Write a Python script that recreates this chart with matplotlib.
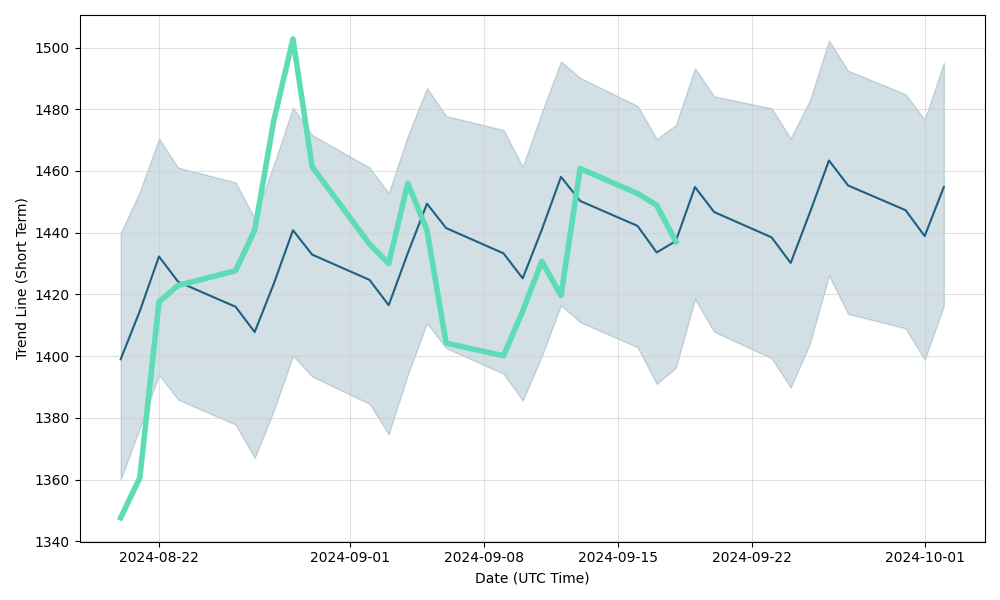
import numpy as np
import pandas as pd
import matplotlib
matplotlib.use("Agg")
import matplotlib.pyplot as plt

dates = pd.to_datetime([
    "2024-08-20", "2024-08-21", "2024-08-22", "2024-08-23",
    "2024-08-26", "2024-08-27", "2024-08-28", "2024-08-29", "2024-08-30",
    "2024-09-02", "2024-09-03", "2024-09-04", "2024-09-05", "2024-09-06",
    "2024-09-09", "2024-09-10", "2024-09-11", "2024-09-12", "2024-09-13",
    "2024-09-16", "2024-09-17", "2024-09-18", "2024-09-19", "2024-09-20",
    "2024-09-23", "2024-09-24", "2024-09-25", "2024-09-26", "2024-09-27",
    "2024-09-30", "2024-10-01", "2024-10-02",
])

trend = [1399.0, 1414.6, 1432.3, 1424.1,
         1416.0, 1407.8, 1423.5, 1440.8, 1432.9,
         1424.7, 1416.5, 1433.4, 1449.4, 1441.5,
         1433.3, 1425.2, 1441.0, 1458.1, 1450.3,
         1442.2, 1433.6, 1437.3, 1454.8, 1446.7,
         1438.5, 1430.2, 1446.5, 1463.4, 1455.3,
         1447.3, 1438.9, 1454.8]

upper = [1439.9, 1453.3, 1470.5, 1461.1,
         1456.3, 1444.7, 1462.0, 1480.5, 1471.7,
         1461.1, 1452.8, 1471.4, 1486.9, 1477.8,
         1473.3, 1461.4, 1479.0, 1495.5, 1490.2,
         1481.1, 1470.4, 1474.9, 1493.3, 1484.2,
         1480.3, 1470.6, 1482.9, 1502.3, 1492.5,
         1484.9, 1476.6, 1495.1]

lower = [1360.0, 1376.7, 1394.0, 1385.9,
         1377.8, 1367.0, 1382.3, 1400.1, 1393.4,
         1384.5, 1374.7, 1394.0, 1410.7, 1402.6,
         1394.3, 1385.6, 1400.0, 1416.5, 1411.0,
         1402.9, 1391.0, 1396.2, 1418.5, 1407.9,
         1399.3, 1389.8, 1404.0, 1426.1, 1413.7,
         1409.0, 1398.8, 1416.3]

# actual values only cover the first 22 days
actual = [1347.6, 1360.6, 1417.6, 1422.9,
          1427.7, 1440.8, 1476.4, 1502.8, 1461.4,
          1436.3, 1430.0, 1456.0, 1440.8, 1404.2,
          1400.1, 1414.6, 1430.7, 1419.6, 1460.8,
          1452.7, 1448.9, 1437.1]

dark = "#1f5f80"
green = "#5ddcb6"

fig, ax = plt.subplots(figsize=(10, 6), dpi=100)
ax.fill_between(dates, lower, upper, color=dark, alpha=0.2)
ax.plot(dates, trend, color=dark, linewidth=1.5)
ax.plot(dates[:len(actual)], actual, color=green, linewidth=4)

ax.grid(True, color="#cccccc", alpha=0.6)
ax.set_xlabel("Date (UTC Time)")
ax.set_ylabel("Trend Line (Short Term)")
plt.tight_layout()
plt.savefig("out.png")
